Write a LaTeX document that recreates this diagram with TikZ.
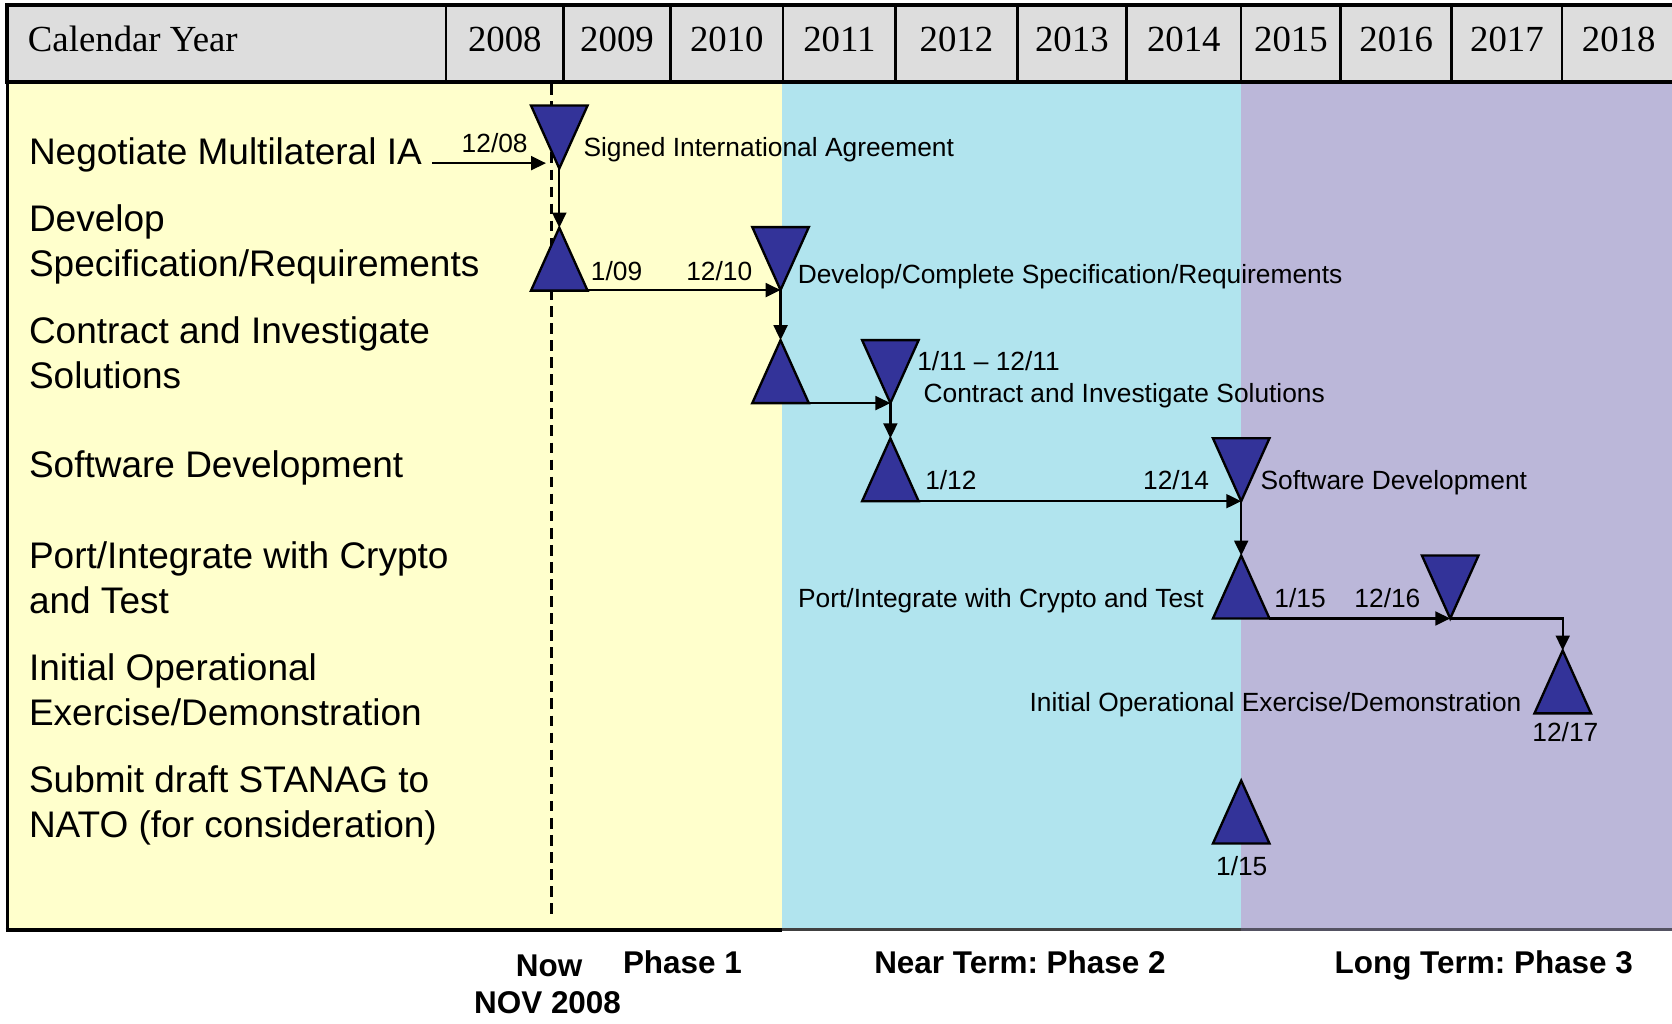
\documentclass[tikz,border=0pt]{standalone}
\usepackage{fontspec}
\newfontfamily\lsans[Ligatures=TeX]{Liberation Sans}
\newfontfamily\lserif[Ligatures=TeX]{Liberation Serif}
\usetikzlibrary{arrows.meta}
\definecolor{phyellow}{HTML}{FFFFCC}
\definecolor{phcyan}{HTML}{B1E4EE}
\definecolor{phlav}{HTML}{BBB7D9}
\definecolor{hdrgray}{HTML}{DDDDDD}
\definecolor{triblue}{HTML}{333399}
\frenchspacing
\begin{document}
\begin{tikzpicture}[x=1pt,y=-1pt,
  tri/.style={fill=triblue,draw=black,line width=2.2pt,line join=miter},
  arr/.style={line width=2.2pt,-{Triangle[length=14pt,width=13pt]}},
  lab/.style={font=\lsans\fontsize{24.7}{30}\selectfont,inner sep=0pt},
  big/.style={font=\lsans\fontsize{34.7}{42}\selectfont,inner sep=0pt,anchor=base west},
  boldlab/.style={font=\lsans\bfseries\fontsize{29.5}{35}\selectfont,inner sep=0pt,anchor=base},
  hdr/.style={font=\lserif\fontsize{34.5}{40}\selectfont,inner sep=0pt,anchor=base},
  downtri/.pic={\path[tri] (-26.5,-59) -- (26.5,-59) -- (0,0) -- cycle;},
  uptri/.pic={\path[tri] (-26.5,59) -- (26.5,59) -- (0,0) -- cycle;}
]
\useasboundingbox (0,0) rectangle (1568,959.4);
\clip (0,0) rectangle (1568,959.4);

% phase backgrounds
\fill[phyellow] (7,77) rectangle (733,872);
\fill[phcyan] (733,77) rectangle (1164,872);
\fill[phlav] (1164,77) rectangle (1580,872);

% now line
\coordinate (nowtop) at (517.5,79);
\coordinate (nowbot) at (517.5,858);
\draw[line width=2.5pt,dash pattern=on 10pt off 6pt] (nowtop) -- (nowbot);

% header
\fill[hdrgray] (7,4.7) rectangle (1580,77.2);
\foreach \sx in {418.4,528.4,628.9,734.3,840,954,1056.4,1163.9,1257.4,1361.4,1464.9}
  \draw[line width=2.5pt] (\sx,4.7) -- (\sx,77.2);
\draw[line width=3.75pt] (1580,4.7) -- (7,4.7) -- (7,77.2) -- (1580,77.2);
\node[hdr,anchor=base west] (cal) at (26,48.5) {Calendar Year};
\foreach \yr/\cx in {2008/473.4,2009/578.65,2010/681.6,2011/787.15,2012/897,2013/1005.2,2014/1110.15,2015/1210.65,2016/1309.4,2017/1413.15,2018/1518}
  \node[hdr] (y\yr) at (\cx,48.5) {\yr};

% borders of body
\draw[line width=3.5pt] (7,77) -- (7,873.7);
\draw[line width=3.5pt] (5.25,872) -- (733,872);
\draw[line width=3pt,black!75] (733,872) -- (1164,872);
\draw[line width=3pt,black!55!phlav] (1164,872) -- (1580,872);

% milestone apex coordinates
\coordinate (D1) at (524.5,158);
\coordinate (U2) at (524.5,213.5);
\coordinate (D2) at (732,272);
\coordinate (U3) at (732,319);
\coordinate (D3) at (835,378);
\coordinate (U4) at (835,411);
\coordinate (D4) at (1164,470);
\coordinate (U5) at (1164,521);
\coordinate (D5) at (1360,580);
\coordinate (U6) at (1465.5,610);
\coordinate (U7) at (1164,732);

\pic at (D1) {downtri};
\pic at (U2) {uptri};
\pic at (D2) {downtri};
\pic at (U3) {uptri};
\pic at (D3) {downtri};
\pic at (U4) {uptri};
\pic at (D4) {downtri};
\pic at (U5) {uptri};
\pic at (D5) {downtri};
\pic at (U6) {uptri};
\pic at (U7) {uptri};

% connectors
\coordinate (s0) at (405,153);
\coordinate (e0) at (512,153);
\coordinate (U2r) at (551,272);
\coordinate (U3r) at (758.5,378);
\coordinate (U4r) at (861.5,470);
\coordinate (U5r) at (1190.5,580);
\draw[arr] (s0) -- (e0);
\draw[arr] (D1) -- (U2);
\draw[arr] (U2r) -- (D2);
\draw[arr] (D2) -- (U3);
\draw[arr] (U3r) -- (D3);
\draw[arr] (D3) -- (U4);
\draw[arr] (U4r) -- (D4);
\draw[arr] (D4) -- (U5);
\draw[arr] (U5r) -- (D5);
\draw[arr] (D5) -| (U6);

% timeline labels
\node[lab,anchor=base east] (t1208) at (495,143) {12/08};
\node[lab,anchor=base west] (tsig) at (547,146.4) {Signed International Agreement};
\node[lab,anchor=base west] (t109) at (554,262.6) {1/09};
\node[lab,anchor=base west] (t1210) at (643.4,262.6) {12/10};
\node[lab,anchor=base west] (tdev) at (748,266) {Develop/Complete Specification/Requirements};
\node[lab,anchor=base west] (t111) at (860,347) {1/11 – 12/11};
\node[lab,anchor=base west] (tcon) at (866,377) {Contract and Investigate Solutions};
\node[lab,anchor=base west] (t112) at (867.5,459.5) {1/12};
\node[lab,anchor=base east] (t1214) at (1134,459.5) {12/14};
\node[lab,anchor=base west] (tsw) at (1182,459) {Software Development};
\node[lab,anchor=base east] (tport) at (1129,570) {Port/Integrate with Crypto and Test};
\node[lab,anchor=base west] (t115) at (1195,570) {1/15};
\node[lab,anchor=base west] (t1216) at (1270,570) {12/16};
\node[lab,anchor=base east] (tinit) at (1427,667) {Initial Operational Exercise/Demonstration};
\node[lab,anchor=base] (t1217) at (1468,695.5) {12/17};
\node[lab,anchor=base] (t115b) at (1164.5,820.6) {1/15};

% row labels
\node[big] (r1) at (27,154) {Negotiate Multilateral IA};
\node[big] (r2a) at (27,217) {Develop};
\node[big] (r2b) at (27,259) {Specification/Requirements};
\node[big] (r3a) at (27,322) {Contract and Investigate};
\node[big] (r3b) at (27,364) {Solutions};
\node[big] (r4) at (27,448) {Software Development};
\node[big] (r5a) at (27,533) {Port/Integrate with Crypto};
\node[big] (r5b) at (27,575) {and Test};
\node[big] (r6a) at (27,638) {Initial Operational};
\node[big] (r6b) at (27,680) {Exercise/Demonstration};
\node[big] (r7a) at (27,743) {Submit draft STANAG to};
\node[big] (r7b) at (27,785) {NATO (for consideration)};

% phase labels
\node[boldlab] (now) at (515,916) {Now};
\node[boldlab] (nov) at (513.5,950) {NOV 2008};
\node[boldlab] (ph1) at (640,912.6) {Phase 1};
\node[boldlab] (ph2) at (956.5,912.6) {Near Term: Phase 2};
\node[boldlab] (ph3) at (1391.5,912.6) {Long Term: Phase 3};
\end{tikzpicture}
\end{document}
